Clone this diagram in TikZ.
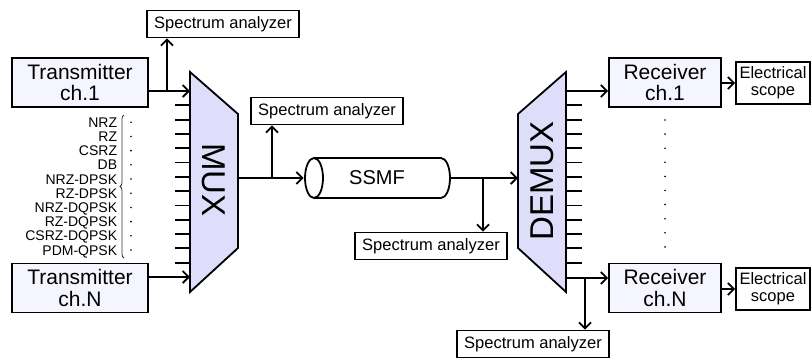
\documentclass[tikz,border=0pt]{standalone}
\usepackage{fontspec}
\setmainfont{Liberation Sans}
\usetikzlibrary{arrows.meta,decorations.pathreplacing}
\definecolor{boxfill}{RGB}{245,245,255}
\definecolor{muxfill}{RGB}{222,222,250}

\begin{document}
\begin{tikzpicture}[x=1pt, y=-1pt, line width=1.8pt,
    arr/.style={-{Straight Barb[length=6pt,width=12pt]}},
    unit/.style={draw, fill=boxfill, minimum width=136pt, minimum height=49pt,
                 inner sep=0pt, align=center, font=\fontsize{21}{21.5}\selectfont},
    rxbox/.style={unit, minimum width=112pt},
    specbox/.style={draw, fill=white, minimum width=152pt, minimum height=27pt,
                    inner sep=0pt, font=\fontsize{16.5}{17}\selectfont},
    scopebox/.style={draw, fill=white, minimum width=74pt, minimum height=42pt,
                     inner sep=0pt, align=center, font=\fontsize{16.5}{17}\selectfont},
    fmt/.style={inner sep=0pt, font=\fontsize{14}{14}\selectfont}]

    \useasboundingbox (0,0) rectangle (811,360);

    % --- Transmitters (left) ---
    \node[unit] (tx1) at (80,82.5) {Transmitter\\ch.1};
    \node[unit] (txN) at (80,288) {Transmitter\\ch.N};

    % modulation formats with brace
    \foreach \lbl [count=\i] in {NRZ,RZ,CSRZ,DB,NRZ-DPSK,RZ-DPSK,NRZ-DQPSK,RZ-DQPSK,CSRZ-DQPSK,PDM-QPSK} {
        \node[fmt, anchor=base east] (fmt\i) at (118, 113+14.2*\i) {\lbl};
        \fill (131, 108+14.2*\i) circle (0.9pt);
    }
    \draw[line width=0.8pt, black!80, decorate, decoration={brace, amplitude=4pt}]
         (124,258) -- (124,115);

    % --- MUX ---
    \foreach \k in {1,...,12}
        \draw (175, 91+14.3*\k) -- (190, 91+14.3*\k);
    \draw[fill=muxfill] (190,72) -- (238,114) -- (238,248) -- (190,292) -- cycle;
    \node[rotate=-90, font=\fontsize{33}{33}\selectfont] (muxlbl) at (214,180) {MUX};
    \coordinate (mux1) at (190,91);
    \coordinate (muxN) at (190,277);
    \coordinate (muxout) at (238,178);

    \draw[arr] (tx1.east |- mux1) -- (mux1);
    \draw[arr] (txN.east |- muxN) -- (muxN);

    % --- Spectrum analyzers ---
    \node[specbox] (spec1) at (223,24) {Spectrum analyzer};
    \node[specbox] (spec2) at (327,111) {Spectrum analyzer};
    \node[specbox] (spec3) at (431,246) {Spectrum analyzer};
    \node[specbox] (spec4) at (533,344) {Spectrum analyzer};

    \coordinate (br1) at (167,91);
    \draw[arr] (br1) -- (br1 |- spec1.south);

    % --- Fibre (cylinder drawn by hand) ---
    \draw[fill=white] (314,158) -- (441,158) arc (-90:90:9 and 20) -- (314,198);
    \draw[fill=white] (314,178) ellipse (9 and 20);
    \node[minimum width=145pt, minimum height=40pt, inner sep=0pt,
          font=\fontsize{20}{20}\selectfont] (ssmf) at (377,178) {SSMF};
    \draw[arr] (muxout) -- (ssmf.west);
    \coordinate (br2) at (272,178);
    \draw[arr] (br2) -- (br2 |- spec2.south);

    % --- DEMUX ---
    \foreach \k in {1,...,12}
        \draw (566, 91+14.3*\k) -- (582, 91+14.3*\k);
    \draw[fill=muxfill] (566,72) -- (518,114) -- (518,248) -- (566,292) -- cycle;
    \node[rotate=90, font=\fontsize{33}{33}\selectfont] (dmxlbl) at (542,181) {DEMUX};
    \coordinate (dmxin) at (518,178);
    \coordinate (dmx1) at (566,91);
    \coordinate (dmxN) at (566,278);

    \draw[arr] (ssmf.east) -- (dmxin);
    \coordinate (br3) at (483,178);
    \draw[arr] (br3) -- (br3 |- spec3.north);

    % --- Receivers and scopes ---
    \node[rxbox] (rx1) at (665,82.5) {Receiver\\ch.1};
    \node[rxbox] (rxN) at (665,288) {Receiver\\ch.N};
    \node[scopebox] (sc1) at (773,83) {Electrical\\scope};
    \node[scopebox] (scN) at (773,289) {Electrical\\scope};

    \draw[arr] (dmx1) -- (dmx1 -| rx1.west);
    \draw[arr] (dmxN) -- (dmxN -| rxN.west);
    \coordinate (br4) at (585,278);
    \draw[arr] (br4) -- (br4 |- spec4.north);
    \draw[arr] (rx1.east |- sc1.west) -- (sc1.west);
    \draw[arr] (rxN.east |- scN.west) -- (scN.west);

    \foreach \k in {0,...,9}
        \fill (665, 120+14.1*\k) circle (0.9pt);

\end{tikzpicture}
\end{document}
